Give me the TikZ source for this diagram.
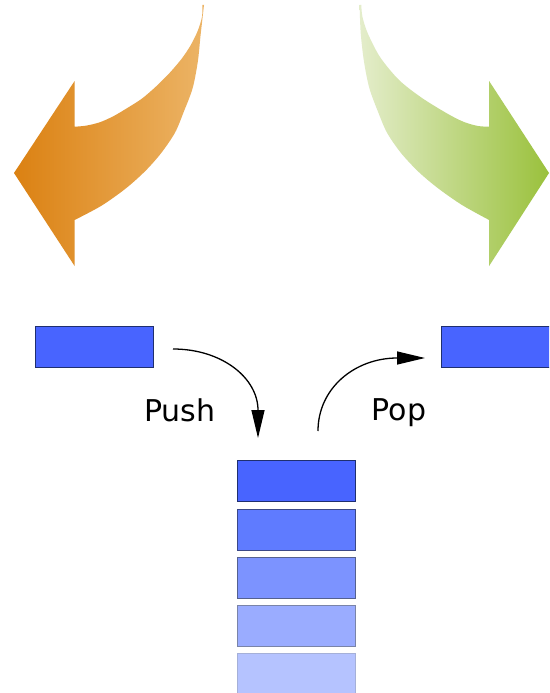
\documentclass[tikz,border=0pt]{standalone}
\usepackage{fontspec}
\setmainfont{DejaVu Sans}
\usetikzlibrary{arrows.meta}
\definecolor{orA}{HTML}{DB8112}
\definecolor{orB}{HTML}{ECB466}
\definecolor{grA}{HTML}{E4EDCB}
\definecolor{grB}{HTML}{9AC13C}
\definecolor{bl1}{HTML}{4864FF}
\definecolor{bl2}{HTML}{5F7BFF}
\definecolor{bl3}{HTML}{7C93FF}
\definecolor{bl4}{HTML}{9AACFF}
\definecolor{bl5}{HTML}{B5C3FF}
\definecolor{bd1}{HTML}{1F2F6F}
\definecolor{bd2}{HTML}{3A4888}
\definecolor{bd3}{HTML}{55618F}
\definecolor{bd4}{HTML}{7A84A8}
\definecolor{bd5}{HTML}{A5B0D8}
\tikzset{
  item/.style={draw=#1, line width=1.2pt, anchor=north west, minimum width=118pt, minimum height=41pt, inner sep=0pt},
  conn/.style={line width=1.3pt, -{Triangle[length=28pt,width=13pt]}},
  lbl/.style={font=\fontsize{30}{34}\selectfont, inner sep=0pt, anchor=base}
}
\begin{document}
\begin{tikzpicture}[x=1pt,y=-1pt]
\useasboundingbox (0,0) rectangle (549,693);
\clip (0,0) rectangle (549,693);
\fill[white] (0,0) rectangle (549,693);
% orange arrow
\shade[left color=orA, right color=orB]
  (14,173) -- (74.6,81) -- (74.6,126.7)
  -- plot[smooth] coordinates {(74.6,126.7) (85.8,125.7) (99.8,122.3) (113.8,116) (127.8,107.7) (141.8,98.7) (155.8,86.7) (169.8,72.7) (182,58.3) (190.8,45) (197.8,30.7) (202,16.7) (202.4,5)}
  -- plot[smooth] coordinates {(204,5) (200.6,35) (197.8,61.7) (192.6,88.3) (183.8,111.7) (175,132.7) (161,153.3) (145.3,171) (126,188.3) (101.5,205.7) (74.6,220)}
  -- (74.6,266) -- cycle;
% green arrow
\shade[left color=grA, right color=grB]
  (549,173) -- (489.1,81) -- (489.1,126.7)
  -- plot[smooth] coordinates {(489.1,126.7) (478,126) (464,122) (448,114) (422,98) (399,80) (380,57) (367.6,33) (362.4,16.7) (361.3,5)}
  -- plot[smooth] coordinates {(359.6,5) (360.7,33) (364,61.7) (369.4,88.3) (378,111.7) (387,132.7) (401,153) (418.4,171.7) (437.7,188) (462,205) (489.1,220)}
  -- (489.1,266) -- cycle;
% items
\node[item=bd1, fill=bl1] (in) at (35,326) {};
\node[item=bd1, fill=bl1, minimum width=150pt] (out) at (441,326) {};
\node[item=bd1, fill=bl1] (s1) at (237,460) {};
\node[item=bd2, fill=bl2] (s2) at (237,508.5) {};
\node[item=bd3, fill=bl3] (s3) at (237,557) {};
\node[item=bd4, fill=bl4] (s4) at (237,605) {};
\node[item=bd5, fill=bl5, minimum height=50pt] (s5) at (237,653) {};
% connectors
\coordinate (pushS) at (173,349);
\coordinate (pushE) at (258,438);
\coordinate (popS) at (318,431);
\coordinate (popE) at (425,358);
\draw[conn] (pushS) .. controls (222,349) and (258,378) .. (pushE);
\draw[conn] (popS) .. controls (318,388) and (355,358) .. (popE);
% labels
\node[lbl] (push) at (180,421) {Push};
\node[lbl] (pop) at (399,420) {Pop};
\end{tikzpicture}
\end{document}
